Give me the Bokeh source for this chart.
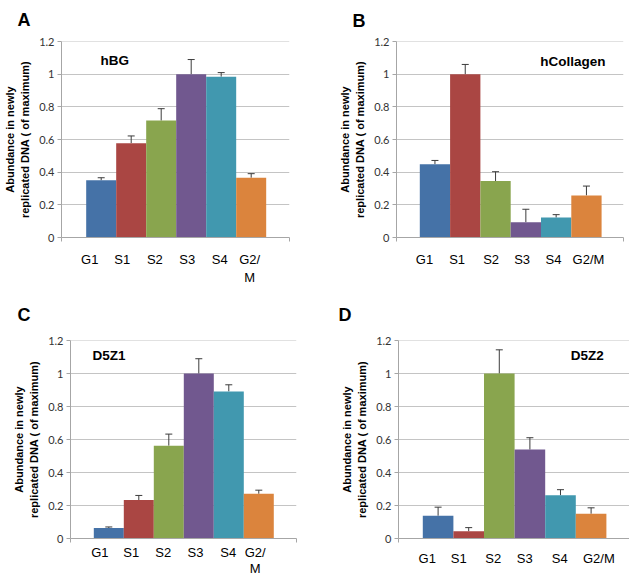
from bokeh.plotting import figure
from bokeh.layouts import row, column
from bokeh.models import (FixedTicker, NumeralTickFormatter, CustomJSTickFormatter, Whisker,
                          TeeHead, ColumnDataSource, Range1d)
from bokeh.core.properties import value
from bokeh.embed import file_html
from bokeh.resources import INLINE

# ---------------- data ----------------
phases = ["G1", "S1", "S2", "S3", "S4", "G2/M"]
phase_colors = ["#4572A7", "#AA4643", "#89A54E", "#71588F", "#4198AF", "#DB843D"]
y_ticks = [0, 0.2, 0.4, 0.6, 0.8, 1.0, 1.2]
y_title = "Abundance in newly\nreplicated DNA ( of maximum)"

hbg_vals = [0.350, 0.578, 0.716, 1.000, 0.985, 0.366]
hbg_err = [0.016, 0.044, 0.073, 0.090, 0.025, 0.025]

hcol_vals = [0.449, 1.000, 0.346, 0.094, 0.122, 0.258]
hcol_err = [0.023, 0.060, 0.057, 0.079, 0.018, 0.057]

d5z1_vals = [0.064, 0.233, 0.563, 1.000, 0.892, 0.271]
d5z1_err = [0.006, 0.028, 0.070, 0.090, 0.040, 0.022]

d5z2_vals = [0.138, 0.044, 1.000, 0.539, 0.262, 0.150]
d5z2_err = [0.052, 0.022, 0.144, 0.072, 0.034, 0.036]

FONT = "Liberation Sans"
AXIS_GREY = "#A6A6A6"


def make_panel(letter, gene, vals, errs, size, xr, tick_pos, gene_xy, gene_align,
               borders, x_standoff, letter_offset, letter_standoff, wrap=False, label_lh=1.22):
    left, right, top, bottom = borders
    p = figure(width=size[0], height=size[1], output_backend="svg", toolbar_location=None,
               x_range=Range1d(*xr), y_range=Range1d(0, 1.2005),
               min_border_left=left, min_border_right=right,
               min_border_top=top, min_border_bottom=bottom,
               background_fill_color="white", border_fill_color="white")
    p.outline_line_color = None

    # panel letter
    p.title.text = letter
    p.title.align = "left"
    p.title.vertical_align = "top"
    p.title.offset = letter_offset
    p.title.standoff = letter_standoff
    p.title.text_font = FONT
    p.title.text_font_style = "bold"
    p.title.text_font_size = "18px"
    p.title.text_color = "black"

    x = list(range(len(phases)))
    src = ColumnDataSource(dict(x=x, top=vals, upper=[v + e for v, e in zip(vals, errs)],
                                color=phase_colors))
    p.vbar(x="x", top="top", width=1.0, source=src, fill_color="color", line_color=None)
    w = Whisker(base="x", lower="top", upper="upper", source=src, dimension="height",
                line_color="#3c3c3c", line_width=1,
                upper_head=TeeHead(size=7, line_color="#3c3c3c", line_width=1),
                lower_head=None)
    p.add_layout(w)

    # y axis
    p.yaxis.ticker = FixedTicker(ticks=y_ticks)
    p.yaxis.formatter = NumeralTickFormatter(format="0.[0]")
    p.yaxis.major_tick_out = 4
    p.yaxis.major_tick_in = 0
    p.yaxis.minor_tick_line_color = None
    p.yaxis.axis_line_color = AXIS_GREY
    p.yaxis.major_tick_line_color = AXIS_GREY
    p.yaxis.major_label_standoff = 3
    p.yaxis.major_label_text_font = "Lato"
    p.yaxis.major_label_text_font_size = "11px"
    p.yaxis.major_label_text_color = "#333333"
    p.yaxis.axis_label = y_title
    p.yaxis.axis_label_standoff = 5
    p.yaxis.axis_label_text_font = FONT
    p.yaxis.axis_label_text_font_style = "bold"
    p.yaxis.axis_label_text_font_size = "11px"
    p.yaxis.axis_label_text_color = "black"
    p.yaxis.axis_label_text_line_height = 1.25

    # x axis
    labels = [("G2/\nM" if (wrap and ph == "G2/M") else ph) for ph in phases]
    p.xaxis.ticker = FixedTicker(ticks=tick_pos, minor_ticks=[xr[0] + 0.002, xr[1] - 0.002])
    p.xaxis.formatter = CustomJSTickFormatter(args=dict(names=labels), code="return names[index];")
    p.xaxis.major_tick_line_color = None
    p.xaxis.minor_tick_line_color = AXIS_GREY
    p.xaxis.minor_tick_out = 4
    p.xaxis.minor_tick_in = 0
    p.xaxis.axis_line_color = AXIS_GREY
    p.xaxis.major_label_standoff = x_standoff
    p.xaxis.major_label_text_font = FONT
    p.xaxis.major_label_text_font_size = "13px"
    p.xaxis.major_label_text_color = "black"
    p.xaxis.major_label_text_line_height = label_lh

    p.xgrid.visible = False
    p.ygrid.ticker = FixedTicker(ticks=y_ticks)
    p.ygrid.grid_line_color = "#C4C4C4"
    p.ygrid.grid_line_width = 1

    p.text(x=[gene_xy[0]], y=[gene_xy[1]], text=[gene], text_font=value(FONT),
           text_font_style="bold", text_font_size="13.5px", text_align=gene_align,
           text_baseline="alphabetic", text_color="black")
    return p


pA = make_panel("A", "hBG", hbg_vals, hbg_err, (315, 290), (-1.323, 6.277),
                [-0.38, 0.70, 1.79, 2.87, 3.95, 4.95], (-0.02, 1.085), "left",
                (61, 26, 41, 52), 8, -44, 19, wrap=True)
pB = make_panel("B", "hCollagen", hcol_vals, hcol_err, (314, 290), (-1.269, 6.223),
                [-0.345, 0.733, 1.855, 2.878, 3.911, 5.066], (5.63, 1.08), "right",
                (81, 6, 40, 53), 8, -44, 18)
pC = make_panel("C", "D5Z1", d5z1_vals, d5z1_err, (315, 289), (-1.277, 6.257),
                [-0.30, 0.747, 1.813, 2.89, 3.98, 4.88], (-0.54, 1.11), "left",
                (70, 19, 50, 38), 0, -53, 28, wrap=True, label_lh=1.1)
pD = make_panel("D", "D5Z2", d5z2_vals, d5z2_err, (314, 289), (-1.294, 6.255),
                [-0.356, 0.677, 1.801, 2.834, 3.978, 5.253], (5.415, 1.11), "right",
                (83, 0, 49, 40), 6, -60, 27)

layout = column(row(pA, pB), row(pC, pD))
open("out.html", "w").write(file_html(layout, INLINE))
